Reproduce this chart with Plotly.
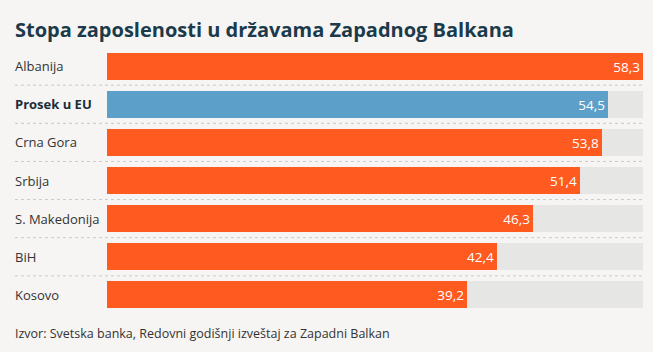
import plotly.graph_objects as go

categories = ["Albanija", "Prosek u EU", "Crna Gora", "Srbija", "S. Makedonija", "BiH", "Kosovo"]
values = [58.3, 54.5, 53.8, 51.4, 46.3, 42.4, 39.2]
labels = ["58,3", "54,5", "53,8", "51,4", "46,3", "42,4", "39,2"]
highlight = "Prosek u EU"
title = "Stopa zaposlenosti u državama Zapadnog Balkana"
source = "Izvor: Svetska banka, Redovni godišnji izveštaj za Zapadni Balkan"

W, H = 659, 352
ML, MR, MT, MB = 107, 16, 47, 38
FONT = "Open Sans"
ORANGE = "#ff5b21"
BLUE = "#5ca0ca"
TRACK = "#e6e6e4"
BG = "#f6f5f3"

xmax = max(values)
colors = [BLUE if c == highlight else ORANGE for c in categories]

fig = go.Figure()
fig.add_trace(go.Bar(
    y=categories, x=[xmax] * len(categories), orientation="h",
    marker=dict(color=TRACK, line=dict(width=0)), width=0.71,
    hoverinfo="skip", showlegend=False,
))
fig.add_trace(go.Bar(
    y=categories, x=values, orientation="h",
    marker=dict(color=colors, line=dict(width=0)), width=0.71,
    text=labels, textposition="inside", insidetextanchor="end",
    textfont=dict(family=FONT, size=13.5, color="white"),
    showlegend=False,
))

pw = W - ML - MR
ph = H - MT - MB
xl = (13 - ML) / pw

for i, c in enumerate(categories):
    fig.add_annotation(
        x=xl, xref="paper", y=c, yref="y", xanchor="left", yanchor="middle",
        text=("<b>%s</b>" % c) if c == highlight else c, showarrow=False,
        font=dict(family=FONT, size=13, color="#1b2d3a" if c == highlight else "#333333"),
    )

for i in range(len(categories) - 1):
    fig.add_shape(
        type="line", xref="paper", yref="y", x0=(15 - ML) / pw, x1=1, y0=i + 0.5, y1=i + 0.5,
        line=dict(color="#c9c9c9", width=1, dash="dot"),
    )

fig.add_annotation(
    x=xl, xref="paper", y=(H - MB - 333) / ph, yref="paper",
    text=source, showarrow=False, xanchor="left", yanchor="middle",
    font=dict(family=FONT, size=12.5, color="#333333"),
)

fig.add_annotation(
    x=xl, xref="paper", y=1 + (MT - 29) / ph, yref="paper",
    text="<b>%s</b>" % title, showarrow=False, xanchor="left", yanchor="middle",
    font=dict(family=FONT, size=20, color="#1b3a4b"),
)

fig.add_shape(type="rect", xref="paper", yref="paper",
              x0=1 + (653 - W + MR) / pw, x1=1 + (MR + 5) / pw, y0=-1, y1=2,
              fillcolor="white", line=dict(width=0), layer="above")

fig.update_layout(
    width=W, height=H, margin=dict(l=ML, r=MR, t=MT, b=MB),
    paper_bgcolor=BG, plot_bgcolor=BG, barmode="overlay", bargap=0,
    xaxis=dict(range=[0, xmax], visible=False, fixedrange=True),
    yaxis=dict(autorange="reversed", showticklabels=False, showgrid=False,
               zeroline=False, fixedrange=True, categoryorder="array", categoryarray=categories),
    font=dict(family=FONT),
    uniformtext=dict(mode="show", minsize=8),
)

fig.write_html("out.html")
